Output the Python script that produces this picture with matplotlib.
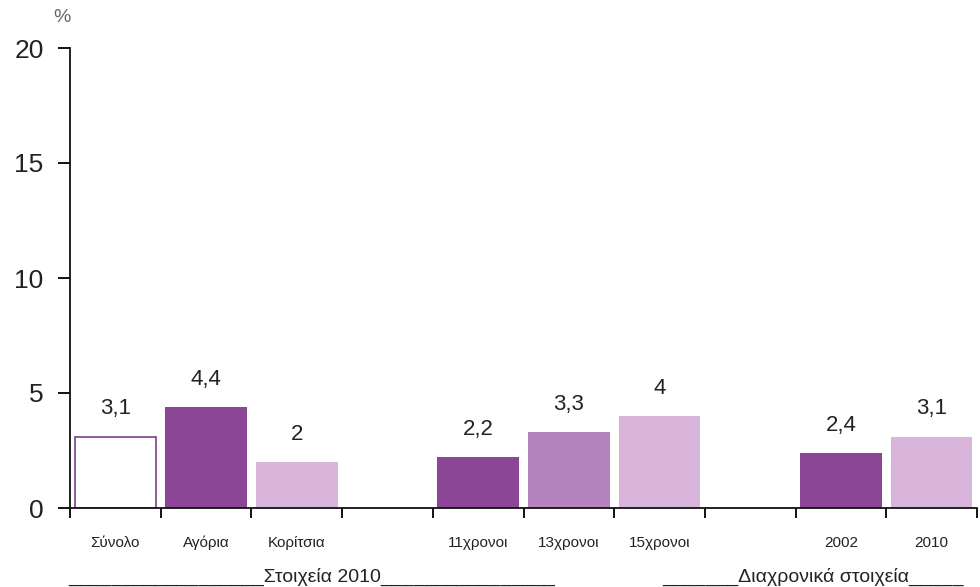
import matplotlib
matplotlib.use("Agg")
import matplotlib.pyplot as plt
import numpy as np

categories = ["Σύνολο", "Αγόρια", "Κορίτσια", "", "11χρονοι", "13χρονοι", "15χρονοι", "", "2002", "2010"]
values = [3.1, 4.4, 2.0, None, 2.2, 3.3, 4.0, None, 2.4, 3.1]
value_labels = ["3,1", "4,4", "2", "", "2,2", "3,3", "4", "", "2,4", "3,1"]
yticks = [0, 5, 10, 15, 20]
group_labels = ["_" * 18 + "Στοιχεία 2010" + "_" * 16, "_" * 7 + "Διαχρονικά στοιχεία" + "_" * 5]

dark = "#8C4696"
mid = "#B583BE"
light = "#D9B5DB"
face_colors = ["white", dark, light, None, dark, mid, light, None, dark, light]
edge_colors = ["#7A3E86", dark, light, None, dark, mid, light, None, dark, light]

plt.rcParams['font.family'] = ['Liberation Sans', 'DejaVu Sans']

fig = plt.figure(figsize=(9.8, 5.87), dpi=100)
ax = fig.add_axes([70/980, 1-508/587, 907/980, 460/587])

n = len(categories)
x = np.arange(n) + 0.5
for xi, v, fc, ec, lab in zip(x, values, face_colors, edge_colors, value_labels):
    if v is None:
        continue
    ax.bar(xi, v, width=0.9, color=fc, edgecolor=ec, linewidth=1.2 if fc == "white" else 0)
    ax.annotate(lab, (xi, v), xytext=(0, 20), textcoords="offset points",
                ha="center", va="center", fontsize=16, color="#222222")

ax.set_xlim(0, n)
ax.set_ylim(0, 20)
ax.set_yticks(yticks)
ax.set_yticklabels([str(t) for t in yticks], fontsize=19, color="#222222")
ax.set_xticks(np.arange(n + 1))
ax.set_xticklabels([])
ax.set_xticks(x, minor=True)
ax.set_xticklabels(categories, minor=True, fontsize=11, color="#222222")
ax.tick_params(axis="x", which="major", direction="out", length=7, width=1.3)
ax.tick_params(axis="x", which="minor", length=0, pad=20)
ax.tick_params(axis="y", direction="out", length=9, width=1.3, pad=10)

for s in ["top", "right"]:
    ax.spines[s].set_visible(False)
for s in ["left", "bottom"]:
    ax.spines[s].set_linewidth(1.3)
    ax.spines[s].set_color("#111111")

fig.text(62/980, 1-18/587, "%", fontsize=14, color="#666666", ha="center", va="center")
fig.text(68/980, 1-577/587, group_labels[0], fontsize=14, color="#222222", ha="left", va="center")
fig.text(662/980, 1-577/587, group_labels[1], fontsize=14, color="#222222", ha="left", va="center")

fig.savefig("out.png", dpi=100)
